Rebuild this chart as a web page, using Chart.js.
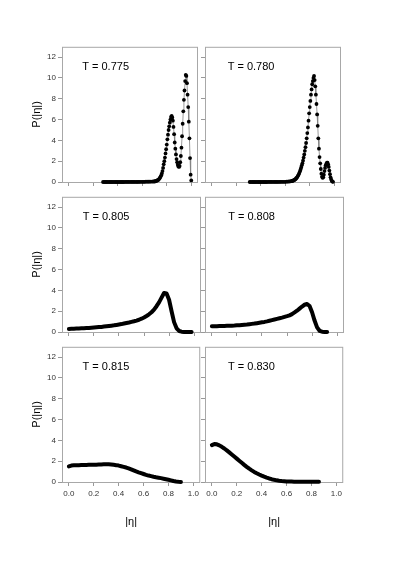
<!DOCTYPE html>
<html>
<head>
<meta charset="utf-8">
<script src="https://cdn.jsdelivr.net/npm/chart.js@4.4.1/dist/chart.umd.min.js"></script>
<style>
  html, body { margin: 0; padding: 0; background: #fff; }
  #page { position: relative; width: 394px; height: 566px; overflow: hidden; }
  #page canvas { position: absolute; }
</style>
</head>
<body>
<div id="page"></div>
<script>
// tick labels shared by all panels
const tickX = [0, 0.2, 0.4, 0.6, 0.8, 1.0];
const tickY = [0, 2, 4, 6, 8, 10, 12];

// T = 0.775
const eta775 = [
  0.28, 0.29, 0.30, 0.31, 0.32, 0.33, 0.34, 0.35, 0.36, 0.37, 0.38, 0.39, 0.40, 0.41,
  0.42, 0.43, 0.44, 0.45, 0.46, 0.47, 0.48, 0.49, 0.50, 0.51, 0.52, 0.53, 0.54, 0.55,
  0.56, 0.57, 0.58, 0.59, 0.60, 0.61, 0.62, 0.63, 0.64, 0.65, 0.66, 0.67, 0.68, 0.69,
  0.700, 0.705, 0.710, 0.715, 0.720, 0.725, 0.730, 0.735, 0.740, 0.745,
  0.750, 0.755, 0.760, 0.765, 0.770, 0.775, 0.780, 0.785, 0.790, 0.795,
  0.800, 0.805, 0.810, 0.815, 0.820, 0.825, 0.830, 0.835, 0.840, 0.845,
  0.850, 0.855, 0.860, 0.865, 0.870, 0.875, 0.880, 0.885, 0.890, 0.895,
  0.900, 0.905, 0.910, 0.915, 0.920, 0.925, 0.930, 0.935, 0.940, 0.945,
  0.950, 0.955, 0.960, 0.965, 0.970, 0.975, 0.980, 0.985, 0.990, 0.995, 1.000,
];
const p775 = [
  0, 0, 0, 0, 0, 0, 0, 0, 0, 0, 0, 0, 0, 0,
  0, 0, 0, 0, 0.01, 0.01, 0.01, 0.01, 0.01, 0.01, 0.01, 0.01, 0.01, 0.01,
  0.01, 0.01, 0.02, 0.02, 0.02, 0.02, 0.02, 0.03, 0.03, 0.03, 0.03, 0.04, 0.04, 0.05,
  0.05, 0.07, 0.09, 0.11, 0.14, 0.17, 0.2, 0.26, 0.33, 0.42,
  0.52, 0.65, 0.82, 1.05, 1.35, 1.7, 2.0, 2.35, 2.75, 3.15,
  3.6, 4.1, 4.55, 5.0, 5.35, 5.7, 6.0, 6.25, 6.35, 6.2,
  5.9, 5.3, 4.6, 3.8, 3.2, 2.65, 2.2, 1.9, 1.65, 1.5,
  1.45, 1.55, 1.9, 2.5, 3.3, 4.4, 5.6, 6.8, 7.9, 8.8,
  9.7, 10.3, 10.2, 9.5, 8.4, 7.2, 5.8, 4.2, 2.3, 0.7, 0.15,
];

// T = 0.780
const eta780 = [
  0.31, 0.32, 0.33, 0.34, 0.35, 0.36, 0.37, 0.38, 0.39, 0.40, 0.41, 0.42, 0.43, 0.44,
  0.45, 0.46, 0.47, 0.48, 0.49, 0.50, 0.51, 0.52, 0.53, 0.54, 0.55, 0.56, 0.57, 0.58,
  0.59, 0.60, 0.61, 0.62, 0.63, 0.64,
  0.650, 0.655, 0.660, 0.665, 0.670, 0.675, 0.680, 0.685, 0.690, 0.695,
  0.700, 0.705, 0.710, 0.715, 0.720, 0.725, 0.730, 0.735, 0.740, 0.745,
  0.750, 0.755, 0.760, 0.765, 0.770, 0.775, 0.780, 0.785, 0.790, 0.795,
  0.800, 0.805, 0.810, 0.815, 0.820, 0.825, 0.830, 0.835, 0.840, 0.845,
  0.850, 0.855, 0.860, 0.865, 0.870, 0.875, 0.880, 0.885, 0.890, 0.895,
  0.900, 0.905, 0.910, 0.915, 0.920, 0.925, 0.930, 0.935, 0.940, 0.945,
  0.950, 0.955, 0.960, 0.965, 0.970, 0.975, 0.980, 0.985, 0.990,
];
const p780 = [
  0, 0, 0, 0, 0, 0, 0, 0, 0, 0, 0, 0, 0, 0,
  0, 0.01, 0.01, 0.01, 0.01, 0.01, 0.01, 0.01, 0.01, 0.01, 0.01, 0.02, 0.02, 0.02,
  0.02, 0.02, 0.03, 0.04, 0.05, 0.06,
  0.08, 0.1, 0.12, 0.14, 0.17, 0.2, 0.25, 0.3, 0.36, 0.43,
  0.52, 0.62, 0.74, 0.88, 1.03, 1.2, 1.4, 1.6, 1.8, 2.05,
  2.35, 2.65, 3.0, 3.35, 3.75, 4.2, 4.7, 5.25, 5.9, 6.6,
  7.2, 7.8, 8.4, 8.9, 9.4, 9.7, 10.0, 10.2, 9.8, 9.2,
  8.4, 7.5, 6.5, 5.4, 4.2, 3.2, 2.4, 1.8, 1.25, 0.8,
  0.5, 0.4, 0.45, 0.7, 1.05, 1.35, 1.6, 1.75, 1.85, 1.85,
  1.7, 1.45, 1.1, 0.75, 0.45, 0.25, 0.1, 0.04, 0.02,
];

// T = 0.805
const eta805 = [
  0.00, 0.02, 0.04, 0.06, 0.08, 0.10, 0.12, 0.14, 0.16, 0.18,
  0.20, 0.22, 0.24, 0.26, 0.28, 0.30, 0.32, 0.34, 0.36, 0.38,
  0.40, 0.42, 0.44, 0.46, 0.48, 0.50, 0.52, 0.54, 0.56, 0.58,
  0.60, 0.62, 0.64, 0.66, 0.68, 0.70, 0.72, 0.74, 0.76, 0.78,
  0.80, 0.82, 0.84, 0.86, 0.88, 0.90, 0.92, 0.94, 0.96, 0.98,
];
const p805 = [
  0.30, 0.31, 0.32, 0.33, 0.34, 0.35, 0.36, 0.38, 0.39, 0.41,
  0.43, 0.45, 0.47, 0.49, 0.52, 0.55, 0.58, 0.61, 0.64, 0.68,
  0.72, 0.76, 0.81, 0.86, 0.91, 0.97, 1.03, 1.10, 1.18, 1.28,
  1.40, 1.54, 1.70, 1.90, 2.15, 2.48, 2.85, 3.30, 3.75, 3.70,
  3.10, 2.00, 0.95, 0.35, 0.10, 0.03, 0.01, 0.01, 0.01, 0.01,
];

// T = 0.808
const eta808 = [
  0.00, 0.02, 0.04, 0.06, 0.08, 0.10, 0.12, 0.14, 0.16, 0.18,
  0.20, 0.22, 0.24, 0.26, 0.28, 0.30, 0.32, 0.34, 0.36, 0.38,
  0.40, 0.42, 0.44, 0.46, 0.48, 0.50, 0.52, 0.54, 0.56, 0.58,
  0.60, 0.62, 0.64, 0.66, 0.68, 0.70, 0.72, 0.74, 0.76, 0.78,
  0.80, 0.82, 0.84, 0.86, 0.88, 0.90, 0.92,
];
const p808 = [
  0.55, 0.56, 0.56, 0.57, 0.58, 0.58, 0.59, 0.60, 0.61, 0.62,
  0.64, 0.66, 0.68, 0.70, 0.72, 0.75, 0.78, 0.81, 0.85, 0.89,
  0.93, 0.97, 1.02, 1.08, 1.14, 1.20, 1.26, 1.32, 1.38, 1.45,
  1.52, 1.60, 1.72, 1.88, 2.05, 2.25, 2.45, 2.62, 2.70, 2.50,
  1.90, 1.10, 0.45, 0.12, 0.03, 0.01, 0.00,
];

// T = 0.815
const eta815 = [
  0.00, 0.02, 0.04, 0.06, 0.08, 0.10, 0.12, 0.14, 0.16, 0.18,
  0.20, 0.22, 0.24, 0.26, 0.28, 0.30, 0.32, 0.34, 0.36, 0.38,
  0.40, 0.42, 0.44, 0.46, 0.48, 0.50, 0.52, 0.54, 0.56, 0.58,
  0.60, 0.62, 0.64, 0.66, 0.68, 0.70, 0.72, 0.74, 0.76, 0.78,
  0.80, 0.82, 0.84, 0.86, 0.88, 0.90,
];
const p815 = [
  1.50, 1.58, 1.60, 1.61, 1.62, 1.63, 1.63, 1.64, 1.65, 1.65,
  1.66, 1.67, 1.68, 1.69, 1.70, 1.70, 1.70, 1.68, 1.65, 1.62,
  1.58, 1.52, 1.46, 1.39, 1.31, 1.22, 1.12, 1.02, 0.93, 0.85,
  0.77, 0.69, 0.62, 0.56, 0.50, 0.45, 0.41, 0.37, 0.32, 0.27,
  0.22, 0.16, 0.10, 0.05, 0.02, 0.01,
];

// T = 0.830
const eta830 = [
  0.00, 0.02, 0.04, 0.06, 0.08, 0.10, 0.12, 0.14, 0.16, 0.18,
  0.20, 0.22, 0.24, 0.26, 0.28, 0.30, 0.32, 0.34, 0.36, 0.38,
  0.40, 0.42, 0.44, 0.46, 0.48, 0.50, 0.52, 0.54, 0.56, 0.58,
  0.60, 0.62, 0.64, 0.66, 0.68, 0.70, 0.72, 0.74, 0.76, 0.78,
  0.80, 0.82, 0.84, 0.86,
];
const p830 = [
  3.55, 3.65, 3.62, 3.52, 3.38, 3.22, 3.04, 2.85, 2.65, 2.45,
  2.25, 2.05, 1.85, 1.65, 1.46, 1.28, 1.12, 0.97, 0.84, 0.72,
  0.61, 0.51, 0.42, 0.34, 0.27, 0.21, 0.16, 0.12, 0.09, 0.07,
  0.05, 0.04, 0.04, 0.03, 0.03, 0.03, 0.03, 0.02, 0.02, 0.02,
  0.02, 0.02, 0.02, 0.02,
];

const panels = [
  { label: "T = 0.775", eta: eta775, p: p775, row: 0, col: 0, dots: true },
  { label: "T = 0.780", eta: eta780, p: p780, row: 0, col: 1, dots: true },
  { label: "T = 0.805", eta: eta805, p: p805, row: 1, col: 0, dots: false },
  { label: "T = 0.808", eta: eta808, p: p808, row: 1, col: 1, dots: false },
  { label: "T = 0.815", eta: eta815, p: p815, row: 2, col: 0, dots: false },
  { label: "T = 0.830", eta: eta830, p: p830, row: 2, col: 1, dots: false },
];

const FONT = "'Liberation Sans', Arial, Helvetica, sans-serif";
Chart.defaults.font.family = FONT;

//frame round the plot area
const frame = {
  id: "frame",
  beforeDatasetsDraw(chart) {
    const { ctx, chartArea: a } = chart;
    ctx.save();
    ctx.strokeStyle = "#a8a8a8";
    ctx.lineWidth = 1;
    ctx.strokeRect(a.left + 0.5, a.top + 0.5, a.right - a.left - 1, a.bottom - a.top);
    ctx.restore();
  },
};

//the "T = ..." text inside each panel
const tLabel = {
  id: "tLabel",
  afterDatasetsDraw(chart, args, opts) {
    const { ctx, scales } = chart;
    ctx.save();
    ctx.font = "11px " + FONT;
    ctx.fillStyle = "#000";
    ctx.textBaseline = "middle";
    ctx.fillText(opts.text, scales.x.getPixelForValue(opts.x), scales.y.getPixelForValue(opts.y));
    ctx.restore();
  },
};

const page = document.getElementById("page");

panels.forEach((pn) => {
  const showY = pn.col === 0;
  const showX = pn.row === 2;
  const yw = showY ? 62 : 40;
  const xh = showX ? 53 : 8;
  const w = yw + 139 + 1;
  const h = 4 + 138 + xh;

  const canvas = document.createElement("canvas");
  canvas.width = w;
  canvas.height = h;
  canvas.style.width = w + "px";
  canvas.style.height = h + "px";
  canvas.style.left = (showY ? 0 : 165) + "px";
  canvas.style.top = [40, 190, 340][pn.row] + "px";
  page.appendChild(canvas);

  new Chart(canvas, {
    type: "scatter",
    data: {
      datasets: [
        {
          data: pn.eta.map((x, i) => ({ x: x, y: pn.p[i] })),
          showLine: true,
          clip: false,
          borderColor: pn.dots ? "#808080" : "#000",
          borderWidth: pn.dots ? 0.8 : 4,
          borderJoinStyle: "round",
          borderCapStyle: "round",
          pointRadius: pn.dots ? 1.9 : 0,
          pointBackgroundColor: "#000",
          pointBorderWidth: 0,
          tension: 0,
        },
      ],
    },
    options: {
      responsive: false,
      devicePixelRatio: 1,
      animation: false,
      events: [],
      layout: { padding: { top: 4, right: 1, left: 0, bottom: 0 } },
      plugins: {
        legend: { display: false },
        tooltip: { enabled: false },
        tLabel: { text: pn.label, x: showY ? 0.11 : 0.13, y: 11.1 },
      },
      scales: {
        x: {
          type: "linear",
          min: -0.055,
          max: 1.055,
          afterBuildTicks: (s) => { s.ticks = tickX.map((v) => ({ value: v })); },
          afterFit: (s) => { s.height = xh; },
          ticks: {
            callback: (v) => (showX ? v.toFixed(1) : ""),
            font: { size: 8 },
            color: "#333",
            padding: 3,
            maxRotation: 0,
            autoSkip: false,
          },
          grid: { drawOnChartArea: false, tickLength: 4, color: "#999" },
          border: { display: false },
          title: {
            display: showX,
            text: "|η|",
            font: { size: 11 },
            color: "#000",
            padding: { top: 0, bottom: 6 },
          },
        },
        y: {
          min: 0,
          max: 13,
          afterBuildTicks: (s) => { s.ticks = tickY.map((v) => ({ value: v })); },
          afterFit: (s) => { s.width = yw; },
          ticks: {
            callback: (v) => (showY ? String(v) : ""),
            font: { size: 8 },
            color: "#333",
            padding: 2,
          },
          grid: { drawOnChartArea: false, tickLength: 4, color: "#999" },
          border: { display: false },
          title: {
            display: showY,
            text: "P(|η|)",
            font: { size: 11 },
            color: "#000",
            padding: { top: 30, bottom: 0 },
          },
        },
      },
    },
    plugins: [frame, tLabel],
  });
});
</script>
</body>
</html>
